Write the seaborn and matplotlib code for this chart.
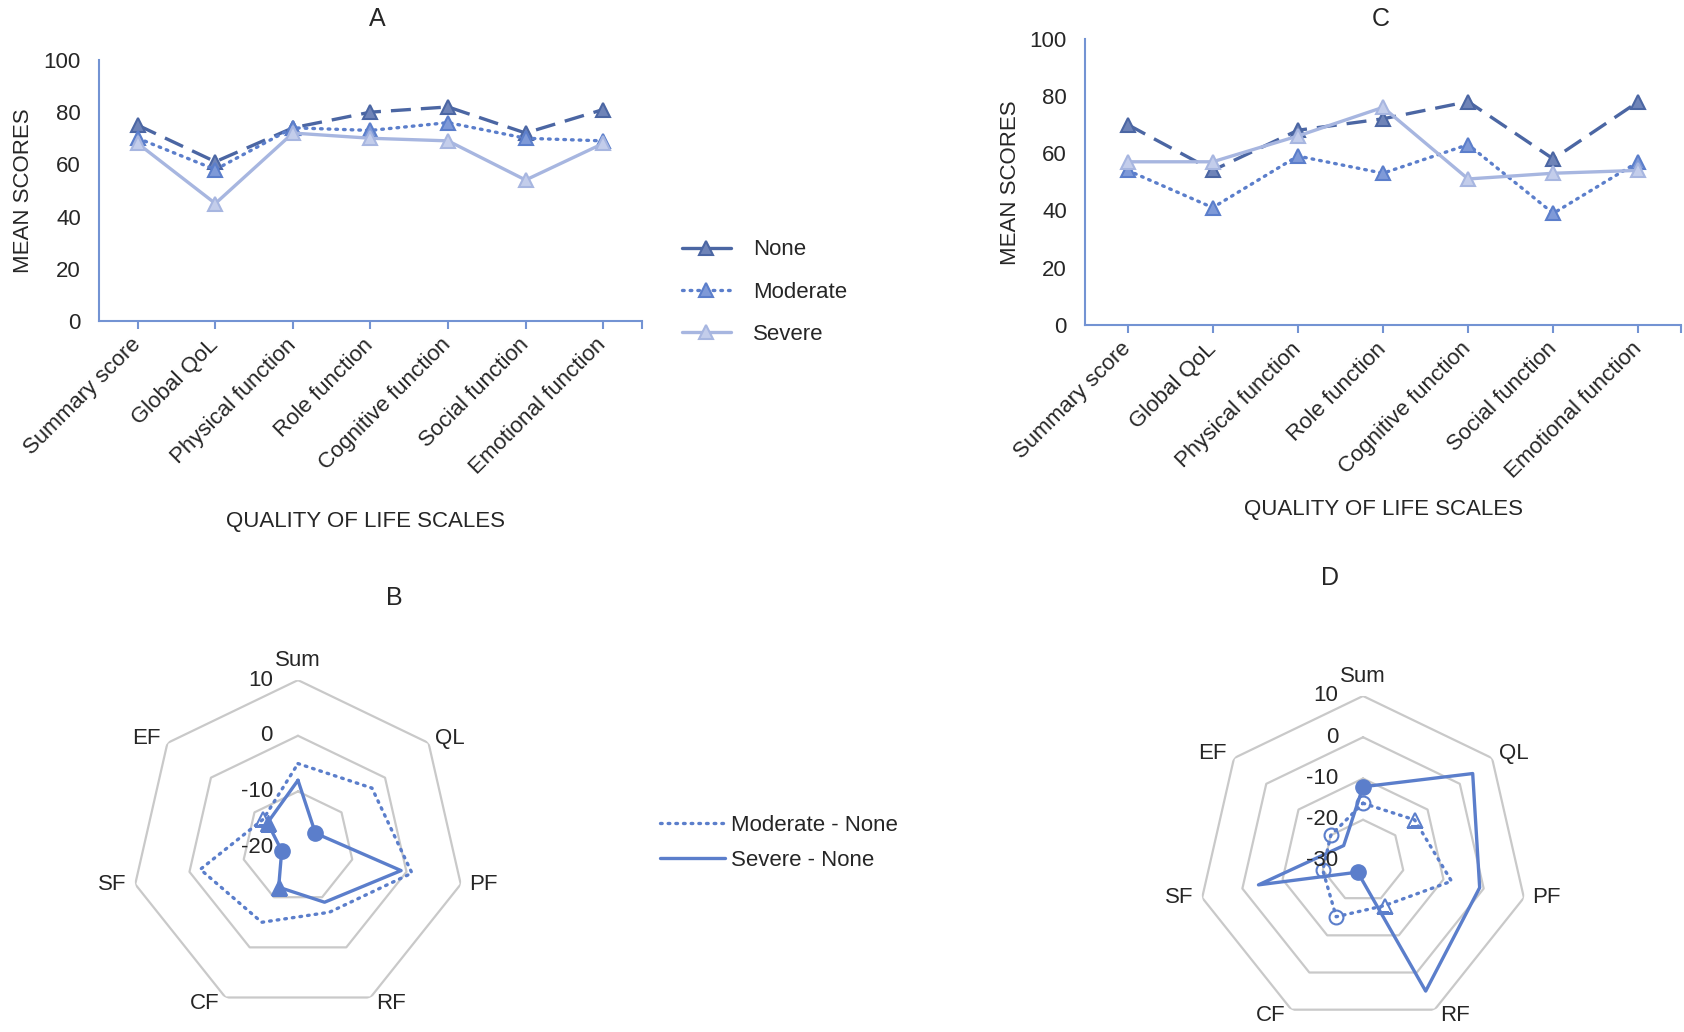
import numpy as np
import matplotlib
matplotlib.use("Agg")
import matplotlib.pyplot as plt
from matplotlib.lines import Line2D
import seaborn as sns

# quality of life scales (line panels)
scales = ["Summary score", "Global QoL", "Physical function", "Role function",
          "Cognitive function", "Social function", "Emotional function"]
groups = ["None", "Moderate", "Severe"]

# panel A mean scores
a_none = [75, 61, 74, 80, 82, 72, 81]
a_moderate = [70, 58, 74, 73, 76, 70, 69]
a_severe = [68, 45, 72, 70, 69, 54, 68]

# panel C mean scores
c_none = [70, 54, 68, 72, 78, 58, 78]
c_moderate = [54, 41, 59, 53, 63, 39, 57]
c_severe = [57, 57, 66, 76, 51, 53, 54]

# radar panels: difference vs None
radar_labels = ["Sum", "QL", "PF", "RF", "CF", "SF", "EF"]
b_mod_none = [-5, -3, 1, -7, -5, -2, -12]
b_sev_none = [-8, -16, -1, -9, -12, -17, -13]
d_mod_none = [-16, -14, -8, -18, -15, -20, -20]
d_sev_none = [-12, 4, -1, 5, -27, -4, -24]
b_rticks = [10, 0, -10, -20]
d_rticks = [10, 0, -10, -20, -30]

# marker styles for the radar points
b_mod_markers = ["", "", "", "", "", "", "^"]
b_sev_markers = ["", "o", "", "", "^", "o", "^"]
d_mod_markers = ["o", "^", "", "^", "o", "o", "o"]
d_sev_markers = ["o", "", "", "", "o", "", ""]

# label placement around the radar (offset in points from each vertex)
label_place = [("center", "bottom", 0, 6.5), ("left", "center", 5, 3),
               ("left", "center", 6, 0), ("left", "center", 4, -4),
               ("right", "center", -4, -4), ("right", "center", -6, 0),
               ("right", "center", -5, 3)]

sns.set_theme(style="white")
plt.rcParams['font.family'] = ['Liberation Sans', 'DejaVu Sans']
FS = 16

DARK = "#4B66A3"
MID = "#5B7ECB"
LIGHT = "#A7B6E0"
AXIS = "#7393D3"
GRID = "#C9C9C9"

styles = {
    "None": dict(color=DARK, linestyle=(0, (6, 3)), mfc="#6F84B8", mec=DARK),
    "Moderate": dict(color=MID, linestyle=(0, (0.5, 1.8)), dash_capstyle="round",
                     mfc="#7F9AD8", mec=MID),
    "Severe": dict(color=LIGHT, linestyle="-", mfc="#C3CDEB", mec=LIGHT),
}

fig = plt.figure(figsize=(16.84, 10.32), dpi=100)


def line_panel(rect, series):
    ax = fig.add_axes(rect)
    x = np.arange(len(scales))
    for name, vals in zip(groups, series):
        sns.lineplot(x=x, y=vals, ax=ax, marker="^", markersize=10.5, lw=2.4,
                     markeredgewidth=1.5, **styles[name])
    ax.set_xlim(-0.5, 6.5)
    ax.set_ylim(0, 100)
    ax.set_yticks(range(0, 101, 20))
    ax.set_xticks(x)
    ax.set_xticks([6.5], minor=True)
    ax.set_xticklabels(scales, rotation=45, ha="right", va="center",
                       rotation_mode="anchor", fontsize=FS)
    ax.tick_params(axis="x", which="both", length=6, width=1.5, color=AXIS,
                   pad=9, bottom=True)
    ax.tick_params(axis="y", length=0, pad=13, labelsize=FS)
    for s in ["top", "right"]:
        ax.spines[s].set_visible(False)
    for s in ["left", "bottom"]:
        ax.spines[s].set_color(AXIS)
        ax.spines[s].set_linewidth(1.5)
    ax.set_xlabel("")
    ax.set_ylabel("")
    return ax


line_panel([0.0588, 0.689, 0.3224, 0.2529], [a_none, a_moderate, a_severe])
line_panel([0.6443, 0.685, 0.3539, 0.2776], [c_none, c_moderate, c_severe])

fig.text(377 / 1684, 1 - 19 / 1032, "A", ha="center", va="center", fontsize=18)
fig.text(1381 / 1684, 1 - 19 / 1032, "C", ha="center", va="center", fontsize=18)
fig.text(394 / 1684, 1 - 598 / 1032, "B", ha="center", va="center", fontsize=18)
fig.text(1330 / 1684, 1 - 578 / 1032, "D", ha="center", va="center", fontsize=18)

fig.text(24 / 1684, 1 - 191 / 1032, "MEAN SCORES", rotation=90, ha="center",
         va="center", fontsize=FS)
fig.text(1011 / 1684, 1 - 183 / 1032, "MEAN SCORES", rotation=90, ha="center",
         va="center", fontsize=FS)
fig.text(365 / 1684, 1 - 522 / 1032, "QUALITY OF LIFE SCALES", ha="center",
         va="center", fontsize=FS)
fig.text(1383 / 1684, 1 - 510 / 1032, "QUALITY OF LIFE SCALES", ha="center",
         va="center", fontsize=FS)

# legend for line panels
handles = [Line2D([], [], color=DARK, lw=2.4, marker="^", markersize=10.5,
                  mfc="#6F84B8", mec=DARK, mew=1.5),
           Line2D([], [], color=MID, lw=2.4, ls=(0, (0.5, 1.8)),
                  dash_capstyle="round", marker="^", markersize=10.5,
                  mfc="#7F9AD8", mec=MID, mew=1.5),
           Line2D([], [], color=LIGHT, lw=2.4, marker="^", markersize=10.5,
                  mfc="#C3CDEB", mec=LIGHT, mew=1.5)]
fig.legend(handles, groups, loc="center left",
           bbox_to_anchor=(0.405, 1 - 292 / 1032), frameon=False,
           fontsize=FS, handlelength=2.2, handletextpad=1.0,
           labelspacing=0.95, borderpad=0, borderaxespad=0)


def radar_panel(rect, mod, sev, rticks, mod_markers, sev_markers):
    ax = fig.add_axes(rect, projection="polar")
    ax.set_theta_zero_location("N")
    ax.set_theta_direction(-1)
    rmin, rmax = rticks[-1], rticks[0]
    ax.set_ylim(rmin, rmax)
    ax.grid(False)
    ax.spines["polar"].set_visible(False)
    ax.set_xticks([])
    ax.set_yticks([])
    ax.patch.set_alpha(0)
    theta = np.linspace(0, 2 * np.pi, len(radar_labels) + 1)
    for r in rticks[:-1]:
        ax.plot(theta, [r] * len(theta), color=GRID, lw=1.6, zorder=1)
    ax.plot(theta, list(mod) + [mod[0]], color=MID, lw=2.4,
            ls=(0, (0.5, 1.8)), dash_capstyle="round", zorder=3)
    ax.plot(theta, list(sev) + [sev[0]], color=MID, lw=2.4, zorder=3)
    for i in range(len(radar_labels)):
        if mod_markers[i]:
            ax.plot(theta[i], mod[i], marker=mod_markers[i], markersize=10,
                    mfc="none", mec=MID, mew=1.5, zorder=4)
        if sev_markers[i]:
            ax.plot(theta[i], sev[i], marker=sev_markers[i], markersize=11,
                    color=MID, zorder=4)
    for t, name, (ha, va, dx, dy) in zip(theta, radar_labels, label_place):
        ax.annotate(name, xy=(t, rmax), xytext=(dx, dy),
                    textcoords="offset points", ha=ha, va=va, fontsize=FS)
    for r in rticks:
        ax.annotate(str(r), xy=(0, r), xytext=(-18, 0),
                    textcoords="offset points", ha="right", va="center",
                    fontsize=FS, zorder=5)
    return ax


radar_panel([0.0778, 0.0174, 0.1983, 0.3236], b_mod_none, b_sev_none,
            b_rticks, b_mod_markers, b_sev_markers)
radar_panel([0.7114, 0.0058, 0.196, 0.3198], d_mod_none, d_sev_none,
            d_rticks, d_mod_markers, d_sev_markers)

rhandles = [Line2D([], [], color=MID, lw=2.4, ls=(0, (0.5, 1.8)),
                   dash_capstyle="round"),
            Line2D([], [], color=MID, lw=2.4)]
fig.legend(rhandles, ["Moderate - None", "Severe - None"], loc="center left",
           bbox_to_anchor=(0.392, 1 - 843 / 1032), frameon=False,
           fontsize=FS, handlelength=2.9, handletextpad=0.3,
           labelspacing=0.65, borderpad=0, borderaxespad=0)

fig.savefig("out.png", dpi=100)
